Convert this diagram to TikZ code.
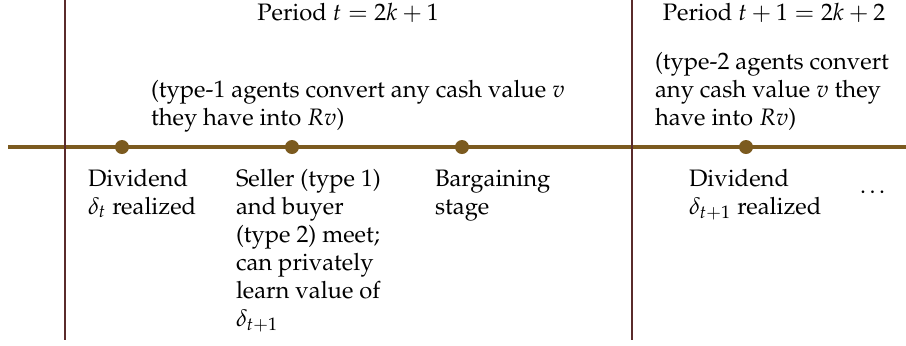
\documentclass[tikz,border=0pt]{standalone}
\usepackage[T1]{fontenc}
\usepackage{mathpazo}
\definecolor{tlcol}{RGB}{123,90,31}
\definecolor{vcol}{RGB}{90,43,43}
\begin{document}
\begin{tikzpicture}[x=0.42857pt,y=-0.42857pt,
  every node/.style={inner sep=0pt,outer sep=0pt,font=\fontsize{10.2}{12}\selectfont},
  timeline/.style={draw=tlcol,line width=1.7pt},
  periodline/.style={draw=vcol,line width=0.6pt},
  evdot/.style={circle,fill=tlcol,minimum size=6pt},
  lbl/.style={anchor=base west,align=left}]
\useasboundingbox (0,0) rectangle (906,345);
% timeline
\coordinate (tlL) at (8,147);
\coordinate (tlR) at (906,147);
\draw[timeline] (tlL) -- (tlR);
% events
\node[evdot] (e1) at (122,147) {};
\node[evdot] (e2) at (292,147) {};
\node[evdot] (e3) at (462,147) {};
\node[evdot] (e4) at (746,147) {};
% period boundaries
\coordinate (v1t) at (65,0);
\coordinate (v1b) at (65,340);
\coordinate (v2t) at (632,0);
\coordinate (v2b) at (632,340);
\draw[periodline] (v1t) -- (v1b);
\draw[periodline] (v2t) -- (v2b);
% headings
\node[anchor=base] (p1) at (348,20) {Period $t=2k+1$};
\node[anchor=base] (p2) at (774,20) {Period $t+1=2k+2$};
% notes above the line (anchor = baseline of last line)
\node[lbl] (n1) at (151,125) {(type-1 agents convert any cash value $v$\\they have into $Rv$)};
\node[lbl] (n2) at (655,125) {(type-2 agents convert\\any cash value $v$ they\\have into $Rv$)};
% event labels
\node[lbl] (l1) at (88,214) {Dividend\\$\delta_t$ realized};
\node[lbl] (l2) at (236,326) {Seller (type 1)\\and buyer\\(type 2) meet;\\can privately\\learn value of\\$\delta_{t+1}$};
\node[lbl] (l3) at (435,214) {Bargaining\\stage};
\node[lbl] (l4) at (689,214) {Dividend\\$\delta_{t+1}$ realized};
\node[lbl] (l5) at (860,193) {\ldots};
\end{tikzpicture}
\end{document}
